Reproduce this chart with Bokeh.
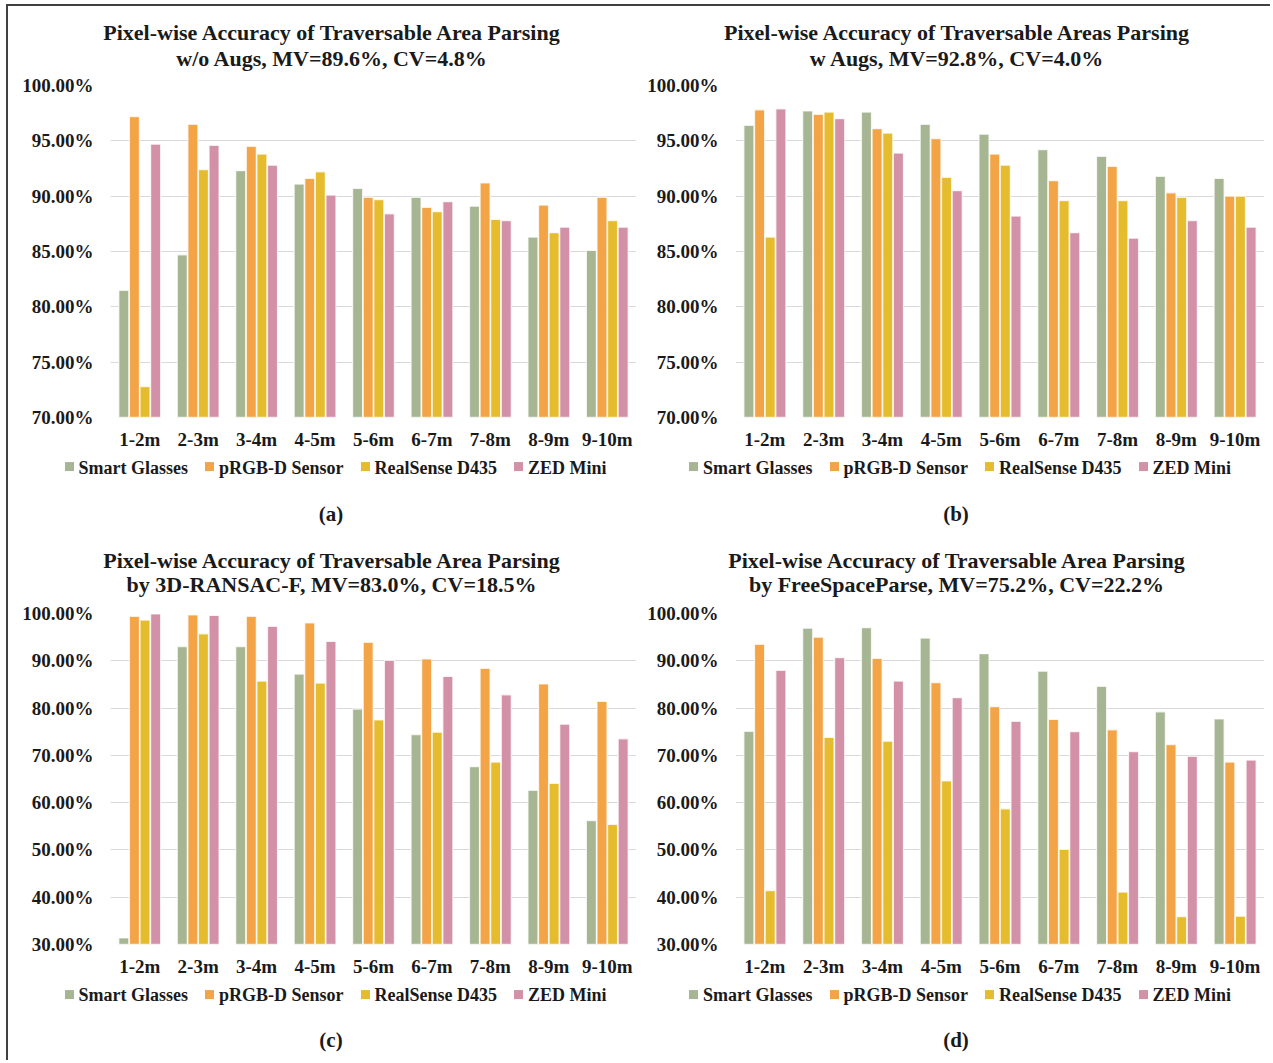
from bokeh.plotting import figure
from bokeh.models import (ColumnDataSource, FactorRange, Range1d, FixedTicker,
                          PrintfTickFormatter, Div)
from bokeh.transform import dodge
from bokeh.layouts import row, column
from bokeh.embed import file_html
from bokeh.resources import INLINE

# ---------------- data ----------------
categories = ["1-2m", "2-3m", "3-4m", "4-5m", "5-6m", "6-7m", "7-8m", "8-9m", "9-10m"]
series_names = ["Smart Glasses", "pRGB-D Sensor", "RealSense D435", "ZED Mini"]

# (a) w/o Augs
a_smart_glasses = [81.5, 84.7, 92.3, 91.1, 90.7, 89.9, 89.1, 86.3, 85.1]
a_prgbd         = [97.2, 96.5, 94.5, 91.6, 89.9, 89.0, 91.2, 89.2, 89.9]
a_realsense     = [72.8, 92.4, 93.8, 92.2, 89.7, 88.6, 87.9, 86.7, 87.8]
a_zed_mini      = [94.7, 94.6, 92.8, 90.1, 88.4, 89.5, 87.8, 87.2, 87.2]

# (b) w Augs
b_smart_glasses = [96.4, 97.7, 97.6, 96.5, 95.6, 94.2, 93.6, 91.8, 91.6]
b_prgbd         = [97.8, 97.4, 96.1, 95.2, 93.8, 91.4, 92.7, 90.3, 90.0]
b_realsense     = [86.3, 97.6, 95.7, 91.7, 92.8, 89.6, 89.6, 89.9, 90.0]
b_zed_mini      = [97.9, 97.0, 93.9, 90.5, 88.2, 86.7, 86.2, 87.8, 87.2]

# (c) 3D-RANSAC-F
c_smart_glasses = [31.4, 93.0, 93.0, 87.2, 79.8, 74.4, 67.6, 62.6, 56.2]
c_prgbd         = [99.4, 99.7, 99.4, 98.0, 93.9, 90.4, 88.4, 85.1, 81.4]
c_realsense     = [98.6, 95.7, 85.7, 85.3, 77.5, 74.9, 68.6, 64.1, 55.4]
c_zed_mini      = [99.9, 99.6, 97.3, 94.1, 90.1, 86.7, 82.8, 76.6, 73.5]

# (d) FreeSpaceParse
d_smart_glasses = [75.1, 96.9, 97.0, 94.8, 91.5, 87.8, 84.6, 79.2, 77.7]
d_prgbd         = [93.5, 95.0, 90.5, 85.4, 80.3, 77.6, 75.4, 72.3, 68.6]
d_realsense     = [41.4, 73.8, 73.0, 64.6, 58.7, 50.1, 41.1, 35.9, 36.0]
d_zed_mini      = [88.0, 90.7, 85.7, 82.2, 77.2, 75.0, 70.8, 69.8, 69.0]

ticks_top = [70, 75, 80, 85, 90, 95, 100]
ticks_bottom = [30, 40, 50, 60, 70, 80, 90, 100]

# ---------------- style ----------------
FONT = "Liberation Serif"
TXT = "#1a1a1a"
COLORS = ["#A6B692", "#F2A446", "#E5BC2E", "#D291A7"]
OFFSETS = [-0.272, -0.0905, 0.0905, 0.272]

BASE_CSS = ("position:absolute;white-space:nowrap;line-height:1;"
            "font-family:'%s';font-weight:bold;color:%s;" % (FONT, TXT))


def centred(text, x, y, size):
    return ('<div style="%sleft:%spx;top:%spx;font-size:%spx;'
            'transform:translate(-50%%,-50%%);">%s</div>' % (BASE_CSS, x, y, size, text))


def strip(inner, w, h):
    html = ('<div style="position:relative;width:%dpx;height:%dpx;overflow:visible;">%s</div>'
            % (w, h, inner))
    return Div(text=html, width=w, height=h, margin=0)


def legend_html(x, y):
    items = []
    for name, col in zip(series_names, COLORS):
        items.append('<span style="display:inline-block;width:9px;height:9px;'
                     'background:%s;margin-right:5px;vertical-align:middle;'
                     'position:relative;top:-1px;"></span>'
                     '<span style="vertical-align:middle;margin-right:17px;">%s</span>'
                     % (col, name))
    return ('<div style="%sleft:%spx;top:%spx;font-size:18px;'
            'transform:translateY(-50%%);">%s</div>' % (BASE_CSS, x, y, "".join(items)))


def make_panel(title1, title2, caption, vals, ystart, yend, ticks,
               w, b_left, b_right, h_title, t1_y, t2_y, h_chart, h_bottom,
               leg_y, cap_y, leg_x):
    cx = b_left + 221.5

    # title strip
    ft = strip(centred(title1, cx, t1_y, 22) + centred(title2, cx, t2_y, 22),
               w, h_title)

    # chart
    data = dict(cat=categories)
    for i, v in enumerate(vals):
        data["s%d" % i] = v
    src = ColumnDataSource(data)
    p = figure(x_range=FactorRange(*categories), y_range=Range1d(ystart, yend),
               width=w, height=h_chart,
               min_border_left=b_left, min_border_right=b_right,
               min_border_top=12, min_border_bottom=35,
               output_backend="svg", toolbar_location=None)
    p.outline_line_color = None
    for i in range(4):
        p.vbar(x=dodge("cat", OFFSETS[i], range=p.x_range), top="s%d" % i,
               bottom=ystart, width=0.172, source=src,
               fill_color=COLORS[i], line_color="white", line_alpha=0.75,
               line_width=1.3)
    p.xgrid.grid_line_color = None
    p.ygrid.grid_line_color = "#D9D9D9"
    p.ygrid.grid_line_width = 1.2
    p.yaxis.ticker = FixedTicker(ticks=ticks)
    p.yaxis.formatter = PrintfTickFormatter(format="%.2f%%")
    for ax in (p.xaxis[0], p.yaxis[0]):
        ax.axis_line_color = None
        ax.major_tick_line_color = None
        ax.minor_tick_line_color = None
        ax.major_tick_out = 0
        ax.major_tick_in = 0
        ax.minor_tick_out = 0
        ax.minor_tick_in = 0
        ax.major_label_text_font = FONT
        ax.major_label_text_font_style = "bold"
        ax.major_label_text_color = TXT
        ax.major_label_text_font_size = "19px"
    p.yaxis.major_label_standoff = 17
    p.xaxis.major_label_standoff = 11

    # legend + caption strip
    fb = strip(legend_html(leg_x, leg_y) + centred(caption, cx - 0.5, cap_y, 21),
               w, h_bottom)
    return column(ft, p, fb)


pa = make_panel("Pixel-wise Accuracy of Traversable Area Parsing",
                "w/o Augs, MV=89.6%, CV=4.8%", "(a)",
                [a_smart_glasses, a_prgbd, a_realsense, a_zed_mini],
                70, 100, ticks_top, 628, 102, 0,
                67, 27, 53, 379, 76, 15, 61.5, 56.5)
pb = make_panel("Pixel-wise Accuracy of Traversable Areas Parsing",
                "w Augs, MV=92.8%, CV=4.0%", "(b)",
                [b_smart_glasses, b_prgbd, b_realsense, b_zed_mini],
                70, 100, ticks_top, 634, 99, 6,
                67, 27, 53, 379, 76, 15, 61.5, 53)
pc = make_panel("Pixel-wise Accuracy of Traversable Area Parsing",
                "by 3D-RANSAC-F, MV=83.0%, CV=18.5%", "(c)",
                [c_smart_glasses, c_prgbd, c_realsense, c_zed_mini],
                30, 100, ticks_bottom, 628, 102, 0,
                73, 32.6, 57.4, 378, 81, 15.3, 61, 56.5)
pd_ = make_panel("Pixel-wise Accuracy of Traversable Area Parsing",
                 "by FreeSpaceParse, MV=75.2%, CV=22.2%", "(d)",
                 [d_smart_glasses, d_prgbd, d_realsense, d_zed_mini],
                 30, 100, ticks_bottom, 634, 99, 6,
                 73, 32.6, 57.4, 378, 81, 15.3, 61, 53)

layout = column(row(pa, pb), row(pc, pd_),
                styles={"border-top": "2px solid #404040",
                        "border-left": "2px solid #404040",
                        "margin-top": "4px", "margin-left": "6px"})

open("out.html", "w").write(file_html(layout, INLINE))
